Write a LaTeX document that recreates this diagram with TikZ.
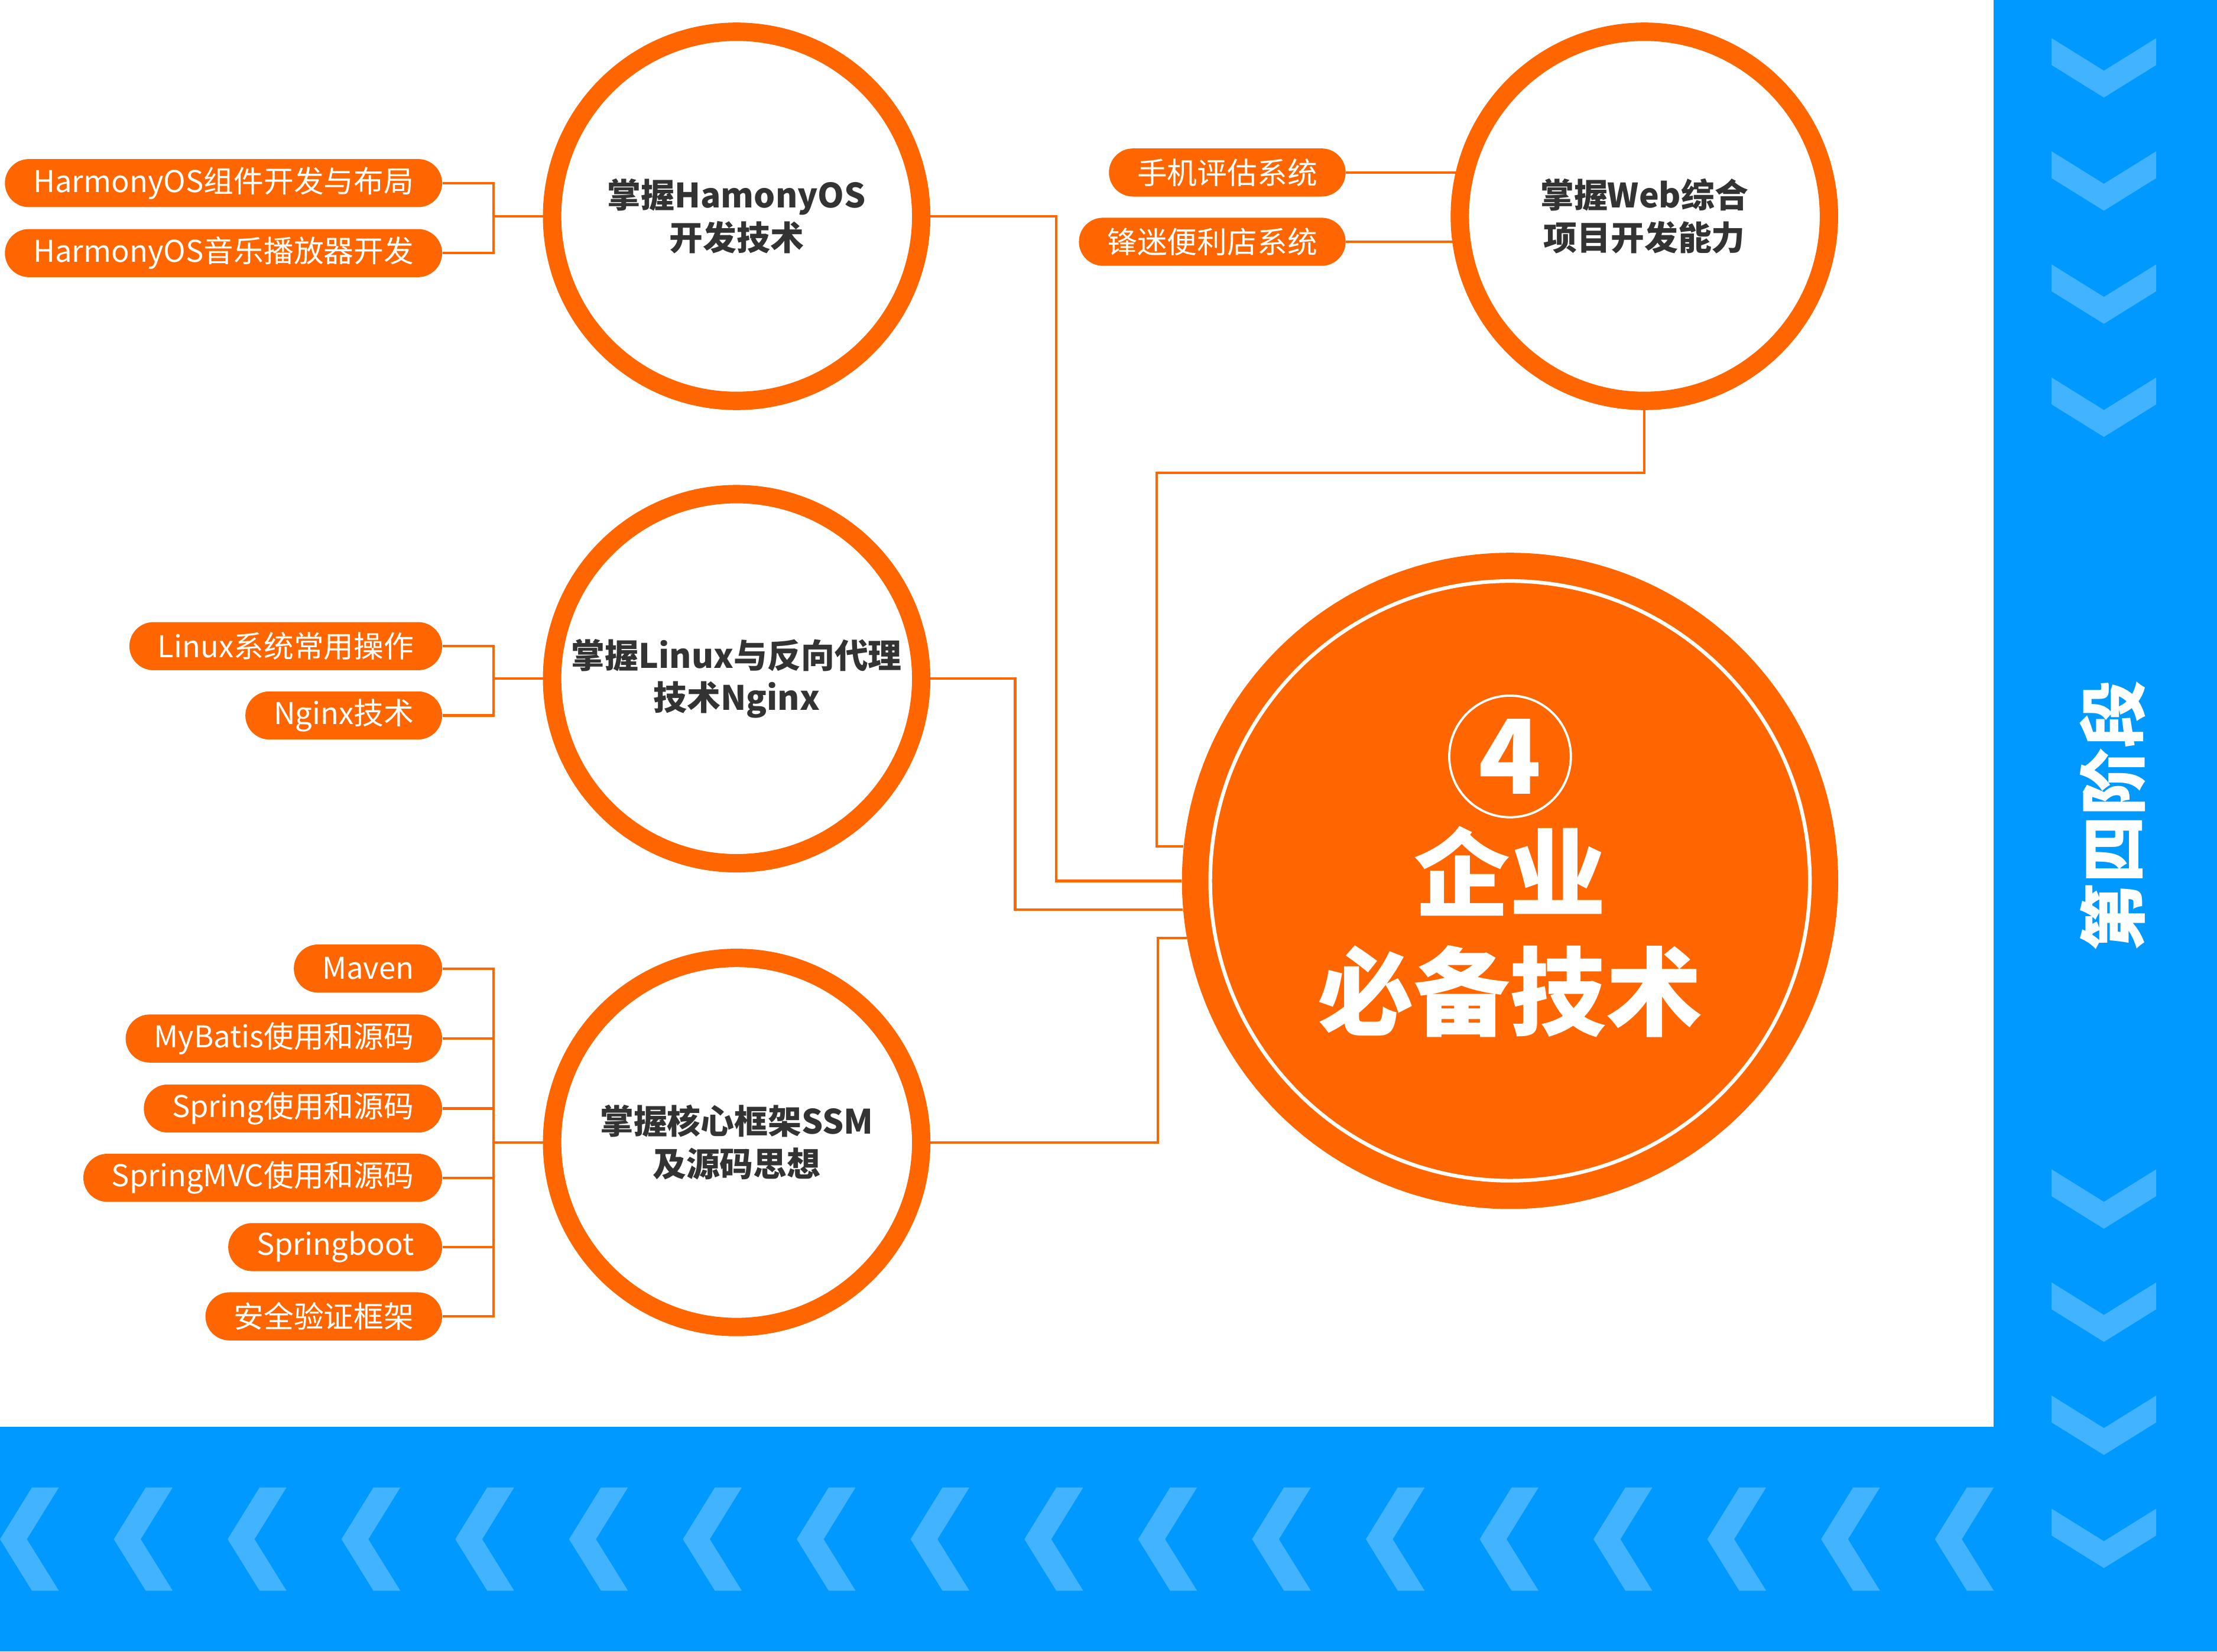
\documentclass[tikz,border=0pt]{standalone}
\usepackage{fontspec}
\setmainfont{Noto Sans CJK SC}
\usepackage{tikz}
\usetikzlibrary{calc}

\definecolor{mainorange}{HTML}{FF6600}
\definecolor{bandblue}{HTML}{0099FF}
\definecolor{chevblue}{HTML}{42B4FF}
\definecolor{darktext}{HTML}{333333}

\pgfdeclarelayer{bg}
\pgfsetlayers{bg,main}

\tikzset{
  link/.style={draw=mainorange,line width=0.45mm},
  pill/.style={fill=mainorange,text=white,rounded corners=4.25mm,minimum height=8.5mm,
    inner xsep=5mm,inner ysep=0pt,font=\fontsize{15.1}{18}\selectfont},
  topic/.style={circle,draw=mainorange,line width=3.25mm,fill=white,minimum size=65.25mm,
    inner sep=0pt,align=center,text=darktext,font=\fontsize{16.9}{21.3}\selectfont\bfseries},
}

\begin{document}
\begin{tikzpicture}[x=0.025cm,y=-0.025cm]
\useasboundingbox (0,0) rectangle (1568,1168);
% blue frame
\fill[bandblue](0,1009) rectangle (1568,1168);
\fill[bandblue](1410,0) rectangle (1568,1168);
\foreach \k in {0,...,17}
  \fill[chevblue]({41.6+80.5*\k},1052)--++(-19,0)--++(-22.6,36.6)--++(22.6,36.4)--++(19,0)--++(-22.6,-36.4)--cycle;
\foreach \t in {27,107,187,267,827,907,987,1067}
  \fill[chevblue](1451,\t)--(1488,\t+23)--(1525,\t)--(1525,\t+19)--(1488,\t+42)--(1451,\t+19)--cycle;
\node[rotate=90,text=white,font=\fontsize{34}{34}\selectfont\bfseries] (stage) at (1494,577) {第四阶段};

% centre
\node[circle,fill=mainorange,minimum size=116mm,inner sep=0pt] (core) at (1068,623) {};
\draw[white,line width=0.65mm] (core.center) circle (53mm);
\node[circle,draw=white,line width=0.4mm,minimum size=21.5mm,inner sep=0pt,text=white,
  font=\fontsize{52}{52}\selectfont\bfseries] (num) at (1068,535) {4};
\node[text=white,align=center,font=\fontsize{48.4}{59.7}\selectfont\bfseries] (title) at (1068,659) {企业\\必备技术};

% topics
\node[topic] (harmony) at (521,153) {掌握HamonyOS\\开发技术};
\node[topic] (web) at (1163,153) {掌握Web综合\\项目开发能力};
\node[topic] (linux) at (521,480) {掌握Linux与反向代理\\技术Nginx};
\node[topic] (ssm) at (521,808) {掌握核心框架SSM\\及源码思想};

% items
\node[pill,anchor=east] (hp1) at (313,129.5) {HarmonyOS组件开发与布局};
\node[pill,anchor=east] (hp2) at (313,179) {HarmonyOS音乐播放器开发};
\node[pill,anchor=east] (wp1) at (952,122) {手机评估系统};
\node[pill,anchor=east] (wp2) at (952,171) {锋迷便利店系统};
\node[pill,anchor=east] (lp1) at (313,457) {Linux系统常用操作};
\node[pill,anchor=east] (lp2) at (313,506) {Nginx技术};
\node[pill,anchor=east] (sp1) at (313,685) {Maven};
\node[pill,anchor=east] (sp2) at (313,734.5) {MyBatis使用和源码};
\node[pill,anchor=east] (sp3) at (313,784) {Spring使用和源码};
\node[pill,anchor=east] (sp4) at (313,833) {SpringMVC使用和源码};
\node[pill,anchor=east] (sp5) at (313,882) {Springboot};
\node[pill,anchor=east] (sp6) at (313,931) {安全验证框架};

% brackets
\coordinate (hj) at (349,153);
\coordinate (lj) at (349,480);
\coordinate (sj) at (349,808);
\foreach \i in {1,2} \draw[link] (hp\i.east) -| (hj);
\foreach \i in {1,2} \draw[link] (lp\i.east) -| (lj);
\foreach \i in {1,...,6} \draw[link] (sp\i.east) -| (sj);
\draw[link] (hj) -- (harmony.west);
\draw[link] (lj) -- (linux.west);
\draw[link] (sj) -- (ssm.west);
\begin{pgfonlayer}{bg}
\draw[link] (wp1.east) -- (wp1.east -| web.center);
\draw[link] (wp2.east) -- (wp2.east -| web.center);
\end{pgfonlayer}

% to the centre
\draw[link] (harmony.east) -- (747,153) |- (core.west);
\draw[link] (linux.east) -- (718,480) |- (core.185.7);
\draw[link] (ssm.east) -- (819,808) |- (core.190.9);
\draw[link] (web.south) |- (818,334.5) |- (core.174.1);
\end{tikzpicture}
\end{document}
